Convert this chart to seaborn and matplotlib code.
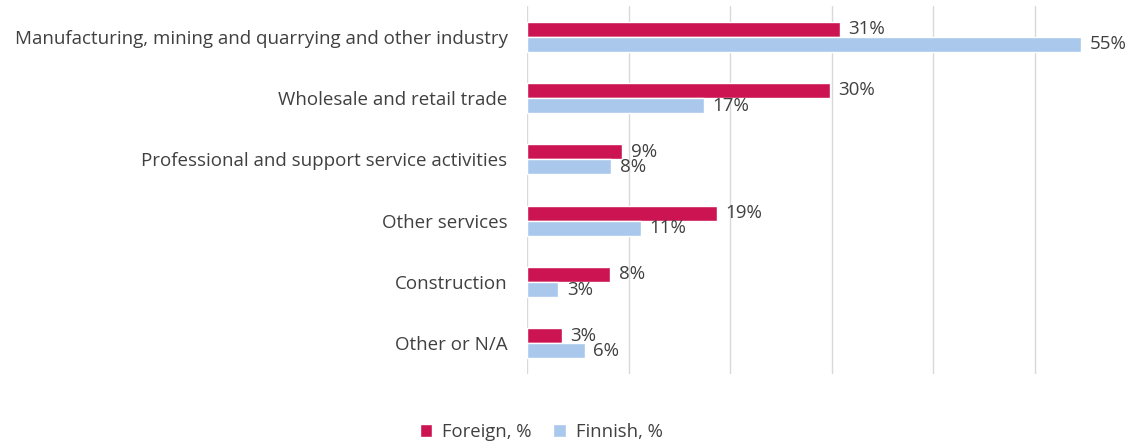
import pandas as pd
import matplotlib.pyplot as plt
import seaborn as sns

# Data (share of companies by industry, %)
industries = [
    "Manufacturing, mining and quarrying and other industry",
    "Wholesale and retail trade",
    "Professional and support service activities",
    "Other services",
    "Construction",
    "Other or N/A",
]
foreign = [30.8, 29.8, 9.4, 18.7, 8.2, 3.4]
finnish = [54.6, 17.4, 8.3, 11.2, 3.1, 5.7]
series_names = ["Foreign, %", "Finnish, %"]
colors = {"Foreign, %": "#CC1452", "Finnish, %": "#A9C8EC"}

df = pd.DataFrame({
    "industry": industries * 2,
    "value": foreign + finnish,
    "group": [series_names[0]] * len(industries) + [series_names[1]] * len(industries),
})

sns.set_theme(style="white")
plt.rcParams["font.family"] = ["Open Sans", "DejaVu Sans"]
text_color = "#404040"

fig = plt.figure(figsize=(11.29, 4.43), dpi=100)
ax = fig.add_axes([527 / 1129, 1 - 374 / 443, 1 - 527 / 1129, (374 - 6) / 443])

sns.barplot(data=df, x="value", y="industry", hue="group", orient="h",
            palette=colors, width=0.49, gap=0, saturation=1, ax=ax)

# Value labels
for cont, vals in zip(ax.containers, [foreign, finnish]):
    ax.bar_label(cont, labels=[f"{v:.0f}%" for v in vals], padding=6,
                 fontsize=13.5, color=text_color)

ax.set_xlim(0, 59.3)
ax.set_xticks([0, 10, 20, 30, 40, 50])
ax.set_xticklabels([])
ax.grid(axis="x", color="#D9D9D9", linewidth=1)
ax.set_axisbelow(True)
for s in ax.spines.values():
    s.set_visible(False)
ax.set_xlabel("")
ax.set_ylabel("")
ax.tick_params(axis="y", length=0, pad=14, labelsize=13.5, labelcolor=text_color)
ax.tick_params(axis="x", length=0)

handles, labels = ax.get_legend_handles_labels()
ax.get_legend().remove()
fig.legend(handles, labels, loc="center", bbox_to_anchor=(541 / 1129, 1 - 432 / 443),
           ncol=2, frameon=False, fontsize=13.3, labelcolor=text_color,
           handlelength=0.7, handleheight=0.7, handletextpad=0.5, columnspacing=1.2)

fig.savefig("out.png", dpi=100)
plt.close()
